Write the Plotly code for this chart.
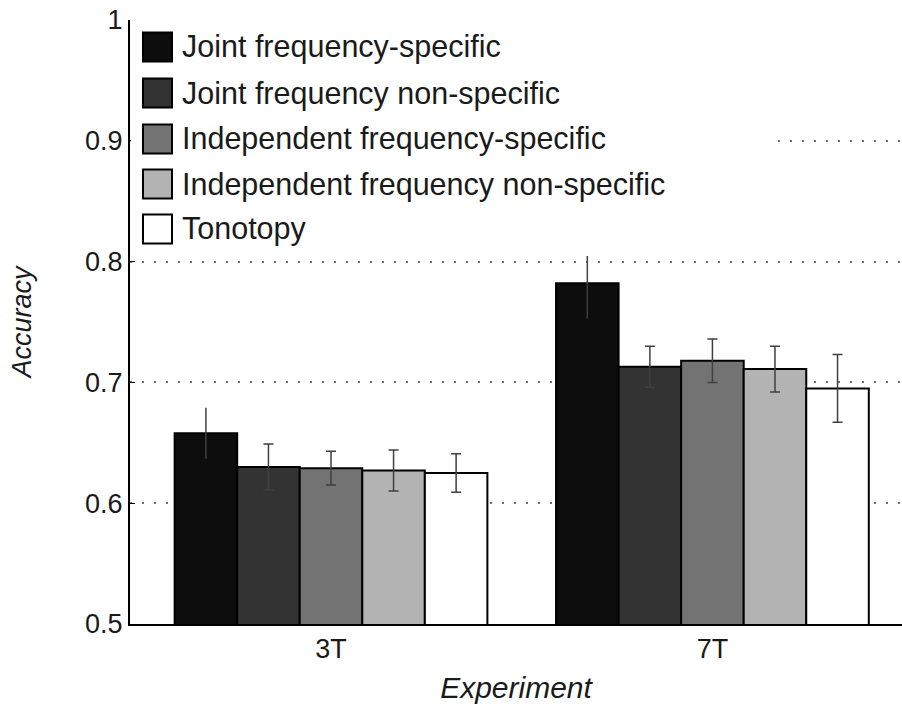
import plotly.graph_objects as go

# ---------------- data ----------------
experiments = ["3T", "7T"]
series_names = [
    "Joint frequency-specific",
    "Joint frequency non-specific",
    "Independent frequency-specific",
    "Independent frequency non-specific",
    "Tonotopy",
]
acc_joint_spec = [0.658, 0.782]
acc_joint_nonspec = [0.630, 0.713]
acc_indep_spec = [0.629, 0.718]
acc_indep_nonspec = [0.627, 0.711]
acc_tonotopy = [0.625, 0.695]

err_joint_spec = [0.021, 0.029]
err_joint_nonspec = [0.019, 0.017]
err_indep_spec = [0.014, 0.018]
err_indep_nonspec = [0.017, 0.019]
err_tonotopy = [0.016, 0.028]

y_tick_values = [0.5, 0.6, 0.7, 0.8, 0.9, 1.0]
y_tick_labels = ["0.5", "0.6", "0.7", "0.8", "0.9", "1"]

values = [acc_joint_spec, acc_joint_nonspec, acc_indep_spec, acc_indep_nonspec, acc_tonotopy]
errors = [err_joint_spec, err_joint_nonspec, err_indep_spec, err_indep_nonspec, err_tonotopy]

# ---------------- styles ----------------
fills = ["#0d0d0d", "#333333", "#737373", "#b3b3b3", "#ffffff"]
cap_widths = [0, 5, 5, 5, 5]
FONT = "Liberation Sans, Arial, Helvetica, sans-serif"
TXT = "#1a1a1a"

W, H = 902, 708
ML, MR, MT, MB = 130, 0, 20, 84
PW, PH = W - ML - MR, H - MT - MB


def px_x(p):
    return (p - ML) / PW


def px_y(p):
    return 1 - (p - MT) / PH


fig = go.Figure()
for name, v, e, c, cw in zip(series_names, values, errors, fills, cap_widths):
    fig.add_trace(go.Bar(
        x=experiments, y=v, name=name,
        marker=dict(color=c, line=dict(color="#000000", width=2)),
        error_y=dict(type="data", array=e, visible=True, color="#404040",
                     thickness=1.5, width=cw),
        showlegend=False,
    ))

# legend (drawn manually for large swatches)
shapes = [dict(type="rect", xref="paper", yref="paper",
               x0=px_x(131), x1=px_x(775), y0=px_y(256), y1=px_y(24),
               fillcolor="#ffffff", line=dict(width=0), layer="above")]
annotations = []
centers = [47, 93, 139, 184, 229]
for name, c, cy in zip(series_names, fills, centers):
    shapes.append(dict(type="rect", xref="paper", yref="paper",
                       x0=px_x(143), x1=px_x(172), y0=px_y(cy + 14.5), y1=px_y(cy - 14.5),
                       fillcolor=c, line=dict(color="#000000", width=2), layer="above"))
    annotations.append(dict(xref="paper", yref="paper", x=px_x(180), y=px_y(cy),
                            xanchor="left", yanchor="middle", text=name, showarrow=False,
                            font=dict(family=FONT, size=30.5, color=TXT)))

fig.update_layout(
    width=W, height=H,
    margin=dict(l=ML, r=MR, t=MT, b=MB),
    paper_bgcolor="white", plot_bgcolor="white",
    barmode="group", bargap=0.18, bargroupgap=0,
    shapes=shapes, annotations=annotations,
    font=dict(family=FONT, size=27, color=TXT),
)
fig.update_xaxes(
    range=[-0.527, 1.497], showgrid=False, showline=True, linecolor="#000000", linewidth=2,
    ticks="", tickfont=dict(size=27, color=TXT),
    title=dict(text="<i>Experiment</i>", font=dict(size=30, color=TXT), standoff=14),
    zeroline=False,
)
fig.update_yaxes(
    range=[0.5, 1.0], tickvals=y_tick_values, ticktext=y_tick_labels,
    showgrid=True, gridcolor="#6e6e6e", gridwidth=1.5, griddash="1.5px,10.5px",
    showline=True, linecolor="#000000", linewidth=2,
    ticks="inside", ticklen=5, tickcolor="#000000",
    tickfont=dict(size=27, color=TXT),
    title=dict(text="<i>Accuracy</i>", font=dict(size=27, color=TXT), standoff=46),
    zeroline=False,
)

fig.write_html("out.html")
